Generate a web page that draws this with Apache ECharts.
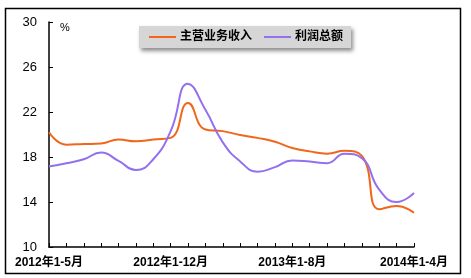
<!DOCTYPE html>
<html><head><meta charset="utf-8">
<script src="https://cdn.jsdelivr.net/npm/echarts@6/dist/echarts.min.js"></script>
<style>html,body{margin:0;padding:0;background:#fff}#c{width:471px;height:278px}</style>
</head><body><div id="c"></div>
<script>
const categories = ['2012年1-5月','2012年1-6月','2012年1-7月','2012年1-8月','2012年1-9月','2012年1-10月','2012年1-11月','2012年1-12月',
  '2013年1-2月','2013年1-3月','2013年1-4月','2013年1-5月','2013年1-6月','2013年1-7月','2013年1-8月','2013年1-9月','2013年1-10月','2013年1-11月','2013年1-12月',
  '2014年1-2月','2014年1-3月','2014年1-4月'];
const revenue = [20.2,19.1,19.15,19.2,19.55,19.4,19.55,19.7,22.8,20.45,20.3,19.95,19.7,19.35,18.8,18.5,18.3,18.55,18.1,13.35,13.65,13.05];
const profit = [17.15,17.45,17.8,18.4,17.65,16.85,17.8,20.3,24.5,22.2,19.3,17.6,16.7,17.1,17.7,17.6,17.45,18.3,17.9,15.1,14.0,14.8];
const yTicks = {min:10, max:30, interval:4};
const chart = echarts.init(document.getElementById('c'), null, {renderer:'canvas'});
const ff = '"Liberation Sans", Arial, "Noto Sans CJK SC", sans-serif';
chart.setOption({
  animation:false,
  textStyle:{fontFamily:ff},
  grid:{left:49, right:57, top:22, bottom:31, containLabel:false},
  legend:{
    top:26, left:139, width:209, height:23,
    padding:[5,8,5,10],
    itemGap:12, itemWidth:27, itemHeight:2, icon:'rect',
    backgroundColor:'#d6d6d6', shadowColor:'rgba(0,0,0,0.45)', shadowBlur:4, shadowOffsetX:2, shadowOffsetY:3,
    textStyle:{fontSize:12, fontWeight:'bold', color:'#000', fontFamily:ff, padding:[0,0,0,-1]},
    data:['主营业务收入','利润总额']
  },
  xAxis:{
    type:'category', data:categories, boundaryGap:false,
    axisLine:{lineStyle:{color:'#000', width:1.5}},
    axisTick:{inside:true, length:4, interval:0, lineStyle:{color:'#000'}},
    axisLabel:{interval:6, color:'#000', fontSize:12, fontWeight:'bold', margin:10, fontFamily:ff},
    splitLine:{show:false}
  },
  yAxis:{
    type:'value', min:yTicks.min, max:yTicks.max, interval:yTicks.interval,
    axisLine:{show:true, lineStyle:{color:'#000', width:1.5}},
    axisTick:{show:true, inside:true, length:4, lineStyle:{color:'#000'}},
    axisLabel:{color:'#000', fontSize:13, margin:12, fontFamily:ff},
    splitLine:{show:false}
  },
  graphic:[
    {type:'rect', shape:{x:5.5, y:8.5, width:455, height:265}, style:{fill:'none', stroke:'#000', lineWidth:1.5}, silent:true, z:-1},
    {type:'text', left:60, top:22, style:{text:'%', font:'11px "Liberation Sans", Arial', fill:'#000'}}
  ],
  series:[
    {name:'主营业务收入', type:'line', data:revenue, smooth:0.5, symbol:'none', lineStyle:{color:'#F0661A', width:2}, itemStyle:{color:'#F0661A'}},
    {name:'利润总额', type:'line', data:profit, smooth:0.5, symbol:'none', lineStyle:{color:'#9370EE', width:2}, itemStyle:{color:'#9370EE'}}
  ]
});
</script></body></html>
